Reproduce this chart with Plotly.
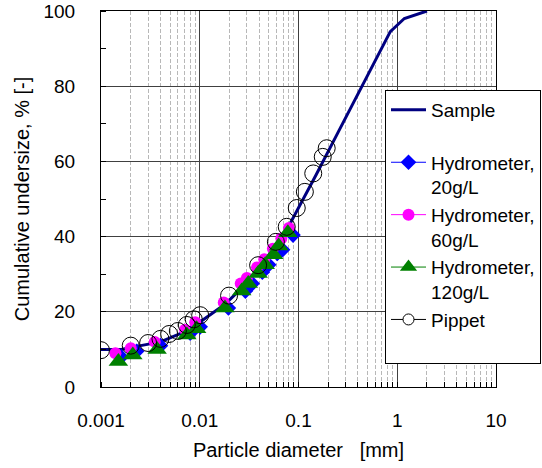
import plotly.graph_objects as go

# ---- data ----
sample_d = [0.001, 0.0016, 0.0023, 0.004, 0.0075, 0.0095, 0.018, 0.027, 0.038, 0.055, 0.075, 0.106, 0.15, 0.25, 0.425, 0.85, 1.18, 2.0]
sample_v = [10.0, 10.0, 10.8, 12.0, 15.0, 16.8, 22.0, 26.5, 31.0, 36.5, 41.5, 48.7, 56.3, 67.6, 79.3, 94.5, 98.0, 100.0]

h20_d = [0.0016, 0.0023, 0.0040, 0.0080, 0.0101, 0.0195, 0.029, 0.034, 0.043, 0.050, 0.061, 0.069, 0.088]
h20_v = [8.0, 9.5, 11.0, 14.3, 16.0, 21.0, 25.5, 27.5, 30.5, 32.5, 35.5, 36.5, 40.4]

h60_d = [0.0014, 0.0020, 0.0035, 0.0071, 0.0090, 0.0175, 0.026, 0.030, 0.038, 0.045, 0.055, 0.067, 0.080]
h60_v = [9.0, 10.3, 12.0, 15.2, 17.2, 22.5, 27.5, 29.0, 31.8, 34.0, 36.8, 39.5, 42.3]

h120_d = [0.0015, 0.0021, 0.0037, 0.0074, 0.0093, 0.018, 0.0266, 0.031, 0.039, 0.046, 0.056, 0.063, 0.078]
h120_v = [6.8, 8.5, 10.0, 13.8, 15.5, 21.0, 25.5, 27.5, 30.2, 32.5, 35.2, 37.5, 41.0]

pip_d = [0.001, 0.002, 0.003, 0.004, 0.0049, 0.006, 0.0074, 0.0087, 0.0101, 0.0198, 0.039, 0.059, 0.076, 0.096, 0.116, 0.141, 0.176, 0.193]
pip_v = [9.8, 11.0, 11.7, 12.8, 14.1, 14.9, 16.5, 18.0, 19.1, 24.3, 32.4, 38.6, 42.6, 47.6, 51.9, 56.8, 61.2, 63.5]

x_tickvals = [0.001, 0.01, 0.1, 1, 10]
x_ticktext = ["0.001", "0.01", "0.1", "1", "10"]
y_tickvals = [0, 20, 40, 60, 80, 100]

FONT = "Arial, Liberation Sans, sans-serif"
NAVY = "#000080"

fig = go.Figure()

fig.add_trace(go.Scatter(x=sample_d, y=sample_v, mode="lines", name="Sample<br>\u00a0",
                         line=dict(color=NAVY, width=3), showlegend=True))
fig.add_trace(go.Scatter(x=h20_d, y=h20_v, mode="markers", showlegend=False,
                         marker=dict(symbol="diamond", size=12, color="#0000FF")))
fig.add_trace(go.Scatter(x=h60_d, y=h60_v, mode="markers", showlegend=False,
                         marker=dict(symbol="circle", size=12, color="#FF00FF")))
fig.add_trace(go.Scatter(x=h120_d, y=h120_v, mode="markers", showlegend=False,
                         marker=dict(symbol="triangle-up", size=17, color="#008000")))
fig.add_trace(go.Scatter(x=pip_d, y=pip_v, mode="markers", showlegend=False,
                         marker=dict(symbol="circle-open", size=17, color="black", line=dict(width=1))))

# legend-only entries
fig.add_trace(go.Scatter(x=[None], y=[None], mode="lines+markers", name="Hydrometer,<br>20g/L",
                         line=dict(color="#0000FF", width=1),
                         marker=dict(symbol="diamond", size=12, color="#0000FF")))
fig.add_trace(go.Scatter(x=[None], y=[None], mode="lines+markers", name="Hydrometer,<br>60g/L",
                         line=dict(color="#FF00FF", width=1),
                         marker=dict(symbol="circle", size=12, color="#FF00FF")))
fig.add_trace(go.Scatter(x=[None], y=[None], mode="lines+markers", name="Hydrometer,<br>120g/L",
                         line=dict(color="#008000", width=1),
                         marker=dict(symbol="triangle-up", size=15, color="#008000")))
fig.add_trace(go.Scatter(x=[None], y=[None], mode="lines+markers", name="Pippet<br>\u00a0",
                         line=dict(color="black", width=1),
                         marker=dict(symbol="circle", size=11, color="white", line=dict(color="black", width=1))))

fig.update_layout(
    width=542, height=468,
    margin=dict(l=101, r=46, t=11, b=81, autoexpand=False),
    paper_bgcolor="white", plot_bgcolor="white",
    font=dict(family=FONT, size=19, color="black"),
    legend=dict(x=(385 - 101) / 395, y=(387 - 90) / 376, xanchor="left", yanchor="top",
                bgcolor="white", bordercolor="black", borderwidth=1,
                font=dict(family=FONT, size=19, color="black"),
                valign="top", itemwidth=35, tracegroupgap=0),
    showlegend=True,
)

fig.update_xaxes(
    type="log", range=[-3, 1], automargin=False,
    tickmode="array", tickvals=x_tickvals, ticktext=x_ticktext,
    showgrid=True, gridcolor="#404040", gridwidth=1,
    showline=True, linecolor="black", linewidth=1, mirror=True,
    ticks="", ticklabelstandoff=16,
    tickfont=dict(family=FONT, size=19, color="black"),
    minor=dict(tickmode="linear", dtick="D1", showgrid=True, gridcolor="#b8b8b8", griddash="4px,2px",
               ticks="inside", ticklen=5, tickcolor="black"),
    title=dict(text="Particle diameter\u00a0\u00a0\u00a0[mm]", standoff=13,
               font=dict(family=FONT, size=20, color="black")),
    zeroline=False,
)

fig.update_yaxes(
    range=[0, 100], tickmode="array", tickvals=y_tickvals, automargin=False,
    showgrid=True, gridcolor="#404040", gridwidth=1,
    showline=True, linecolor="black", linewidth=1, mirror=True,
    ticks="", ticklabelstandoff=21, ticklabeloverflow="allow",
    tickfont=dict(family=FONT, size=19, color="black"),
    minor=dict(dtick=10, tick0=0, showgrid=False, ticks="inside", ticklen=5, tickcolor="black"),
    title=dict(text="Cumulative undersize, % [-]", standoff=8,
               font=dict(family=FONT, size=20, color="black")),
    zeroline=False,
)

# remove the browser's default 8px page margin so the figure fills the window exactly
fig.write_html("out.html", config={"displayModeBar": False},
               post_script="document.body.style.margin='0';")
